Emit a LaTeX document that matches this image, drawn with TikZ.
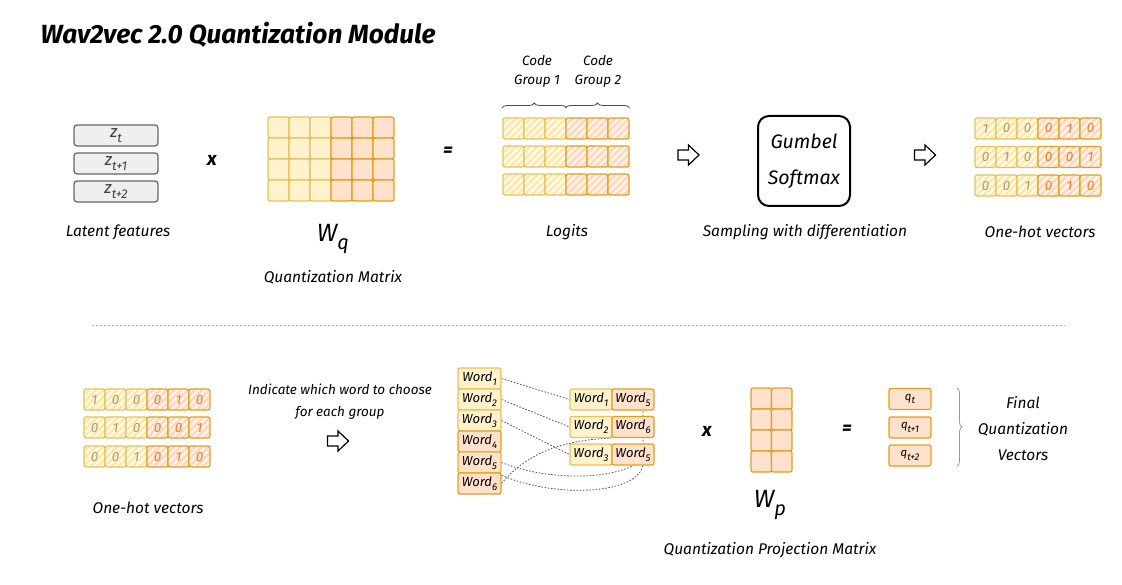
\documentclass[tikz,border=0pt]{standalone}
\usepackage{fontspec}
\usepackage{graphicx}
\setmainfont{Fira Sans}
\usetikzlibrary{decorations.pathreplacing,patterns.meta,backgrounds,calc}
\definecolor{yfill}{HTML}{FFF2CC}
\definecolor{ofill}{HTML}{FFE1CC}
\definecolor{yfillh}{HTML}{FFFBEF}
\definecolor{ofillh}{HTML}{FFF3EA}
\definecolor{yhatch}{HTML}{FFE7A0}
\definecolor{ohatch}{HTML}{FFD6BA}
\definecolor{ybord}{HTML}{E8C15A}
\definecolor{obord}{HTML}{E39E1E}
\definecolor{ydig}{HTML}{B09C68}
\definecolor{odig}{HTML}{F07F30}
\definecolor{gfill}{HTML}{EFEFEF}
\definecolor{gbord}{HTML}{666666}
\definecolor{conn}{HTML}{555555}
\newcommand{\lsub}[2][0.75]{\raisebox{-0.32em}{\scalebox{#1}{#2}}}
\tikzset{
  lbl/.style={font=\itshape\fontsize{15.5}{17}\selectfont},
  slbl/.style={font=\itshape\fontsize{13.5}{15}\selectfont},
  cellbase/.style={minimum width=21pt, minimum height=21pt, inner sep=0pt, rounded corners=2pt, line width=1.2pt, font=\itshape\fontsize{13.5}{13.5}\selectfont},
  yc/.style={cellbase, draw=ybord, fill=yfill},
  oc/.style={cellbase, draw=obord, fill=ofill},
  yh/.style={cellbase, draw=ybord, preaction={fill=yfillh}, pattern={Lines[angle=45,distance=5pt,line width=2.2pt]}, pattern color=yhatch, text=ydig},
  oh/.style={cellbase, draw=obord, preaction={fill=ofillh}, pattern={Lines[angle=45,distance=5pt,line width=2.2pt]}, pattern color=ohatch, text=odig},
  latbox/.style={draw=gbord, fill=gfill, line width=1.2pt, rounded corners=3pt, minimum width=84pt, minimum height=21pt, inner sep=0pt, font=\itshape\fontsize{17}{17}\selectfont, text=black!75},
  wbase/.style={minimum width=43pt, minimum height=21pt, inner sep=0pt, rounded corners=2pt, line width=1.2pt, font=\itshape\fontsize{13}{13}\selectfont},
  wy/.style={wbase, draw=ybord, fill=yfill},
  wo/.style={wbase, draw=obord, fill=ofill},
  wm/.style={wbase, draw=ybord!60!obord, fill=ofill},
  qbox/.style={minimum width=42pt, minimum height=21pt, inner sep=0pt, rounded corners=2pt, line width=1.2pt, draw=obord, fill=ofill, font=\itshape\fontsize{11.5}{11.5}\selectfont},
  hollowarrow/.pic={\draw[line width=1.2pt, line join=miter, fill=white] (-10.5,-5) -- (0,-5) -- (0,-10) -- (10.5,0) -- (0,10) -- (0,5) -- (-10.5,5) -- cycle;},
  op/.style={font=\bfseries\itshape\fontsize{19}{19}\selectfont},
  dotc/.style={draw=conn, line width=0.8pt, dash pattern=on 1.6pt off 1.6pt},
  gbrace/.style={draw=black!70, line width=0.8pt, decorate, decoration={brace, amplitude=5pt}}
}
\begin{document}
\begin{tikzpicture}[x=1pt,y=-1pt]
\path[use as bounding box] (0,0) rectangle (1122,585);
% title
\node[anchor=west, font=\bfseries\itshape\fontsize{26.3}{28}\selectfont] (title) at (37,35) {Wav2vec 2.0 Quantization Module};

% latent features
\node[latbox] (lat1) at (116,135.5) {z\lsub{t}};
\node[latbox] (lat2) at (116,163.5) {z\lsub{t+1}};
\node[latbox] (lat3) at (116,191.5) {z\lsub{t+2}};
\node[lbl] (latl) at (118,232) {Latent features};
\node[op] (times1) at (212,160) {x};

% Wq matrix
\foreach \r in {0,1,2,3}{
  \foreach \c/\s in {0/yc,1/yc,2/yc,3/oc,4/oc,5/oc}{
    \node[\s] (wq-\r-\c) at ({278.5+21*\c},{127.5+21*\r}) {};
  }
}
\node[font=\itshape\fontsize{25}{26}\selectfont] (wql) at (333,239) {W\lsub[0.8]{q}};
\node[lbl] (wqn) at (333,277) {Quantization Matrix};
\node[op] (eq1) at (448,152) {=};

% logits
\foreach \r/\y in {0/128.5,1/156.5,2/184.5}{
  \foreach \c/\s in {0/yh,1/yh,2/yh,3/oh,4/oh,5/oh}{
    \node[\s] (lg-\r-\c) at ({513.5+21*\c},\y) {};
  }
}
\draw[gbrace] (lg-0-0.north west |- 0,108) -- (lg-0-2.north east |- 0,108);
\draw[gbrace] (lg-0-3.north west |- 0,108) -- (lg-0-5.north east |- 0,108);
\node[slbl, align=center] (cg1) at (537,71) {Code\\[4pt]Group 1};
\node[slbl, align=center] (cg2) at (598,71) {Code\\[4pt]Group 2};
\node[lbl] (lgl) at (567,232) {Logits};

\pic (ar1) at (688.5,155) {hollowarrow};

% Gumbel
\node[draw, line width=2pt, rounded corners=11pt, minimum width=92pt, minimum height=90pt, align=center, font=\itshape\fontsize{19.5}{36}\selectfont] (gum) at (804,161) {Gumbel\\Softmax};
\node[lbl] (guml) at (805,232) {Sampling with differentiation};

\pic (ar2) at (925,155) {hollowarrow};

% one-hot top
\foreach \c/\s/\da/\db/\dc in {0/yh/1/0/0, 1/yh/0/1/0, 2/yh/0/0/1, 3/oh/0/0/0, 4/oh/1/0/1, 5/oh/0/1/0}{
  \node[\s] (ot-0-\c) at ({985.5+21*\c},128.5) {\da};
  \node[\s] (ot-1-\c) at ({985.5+21*\c},157) {\db};
  \node[\s] (ot-2-\c) at ({985.5+21*\c},185.5) {\dc};
}
\node[lbl] (otl) at (1040,232) {One-hot vectors};

% separator
\draw[draw=black!30, line width=1pt, dash pattern=on 2pt off 2pt] (92,326) coordinate (sepa) -- (1065,326) coordinate (sepb);

% one-hot bottom
\foreach \c/\s/\da/\db/\dc in {0/yh/1/0/0, 1/yh/0/1/0, 2/yh/0/0/1, 3/oh/0/0/0, 4/oh/1/0/1, 5/oh/0/1/0}{
  \node[\s] (ob-0-\c) at ({94.5+21*\c},399.5) {\da};
  \node[\s] (ob-1-\c) at ({94.5+21*\c},427.5) {\db};
  \node[\s] (ob-2-\c) at ({94.5+21*\c},456.5) {\dc};
}
\node[lbl] (obl) at (148,508) {One-hot vectors};

\node[slbl] (ind1) at (340,389) {Indicate which word to choose};
\node[slbl] (ind2) at (340,413) {for each group};
\pic (ar3) at (338,441) {hollowarrow};

% codebook words (left column)
\node[wy] (wl1) at (479.5,378.5) {Word\lsub{1}};
\node[wy] (wl2) at (479.5,399.5) {Word\lsub{2}};
\node[wy] (wl3) at (479.5,420.5) {Word\lsub{3}};
\node[wo] (wl4) at (479.5,441.5) {Word\lsub{4}};
\node[wm] (wl5) at (479.5,462.5) {Word\lsub{5}};
\node[wo] (wl6) at (479.5,483.5) {Word\lsub{6}};

% selected words
\node[wy, minimum width=42pt] (wr1a) at (591,399.5) {Word\lsub{1}};
\node[wo, minimum width=42pt] (wr1b) at (633,399.5) {Word\lsub{5}};
\node[wy, minimum width=42pt] (wr2a) at (591,427) {Word\lsub{2}};
\node[wo, minimum width=42pt] (wr2b) at (633,427) {Word\lsub{6}};
\node[wy, minimum width=42pt] (wr3a) at (591,454.5) {Word\lsub{3}};
\node[wo, minimum width=42pt] (wr3b) at (633,454.5) {Word\lsub{5}};

\begin{scope}[on background layer]
\draw[dotc] (wl1.east) -- (wr1a.west);
\draw[dotc] (wl2.east) -- (wr2a.west);
\draw[dotc] (wl3.east) -- (wr3a.west);
\draw[dotc] (wl6.east) .. controls (525,455) and (560,440) .. (wr2b.south west);
\draw[dotc] (wl5.east) .. controls (545,480) and (605,480) .. (wr3b.south);
\draw[dotc] (wl5.center) .. controls (525,498) and (635,500) .. ($(wr3b.south)+(10,0)$) -- ($(wr1b.south)+(10,0)$);
\end{scope}

% Wp matrix
\node[op] (times2) at (707,431) {x};
\foreach \r in {0,1,2,3}{
  \foreach \c in {0,1}{
    \node[oc, minimum width=20.5pt] (wp-\r-\c) at ({761.25+20.5*\c},{398.5+21*\r}) {};
  }
}
\node[font=\itshape\fontsize{25}{26}\selectfont] (wpl) at (770,505) {W\lsub[0.8]{p}};
\node[lbl] (wpn) at (770,550) {Quantization Projection Matrix};
\node[op] (eq2) at (847,430) {=};

% outputs
\node[qbox] (q1) at (910,399) {q\lsub[0.85]{t}};
\node[qbox] (q2) at (910,427.5) {q\lsub[0.85]{t+1}};
\node[qbox] (q3) at (910,455.5) {q\lsub[0.85]{t+2}};
\draw[gbrace, draw=black!40] (957,388) -- (957,466);
\node[lbl, align=center, font=\itshape\fontsize{15.5}{26}\selectfont] (fin) at (1023,429) {Final\\Quantization\\Vectors};
\end{tikzpicture}
\end{document}
